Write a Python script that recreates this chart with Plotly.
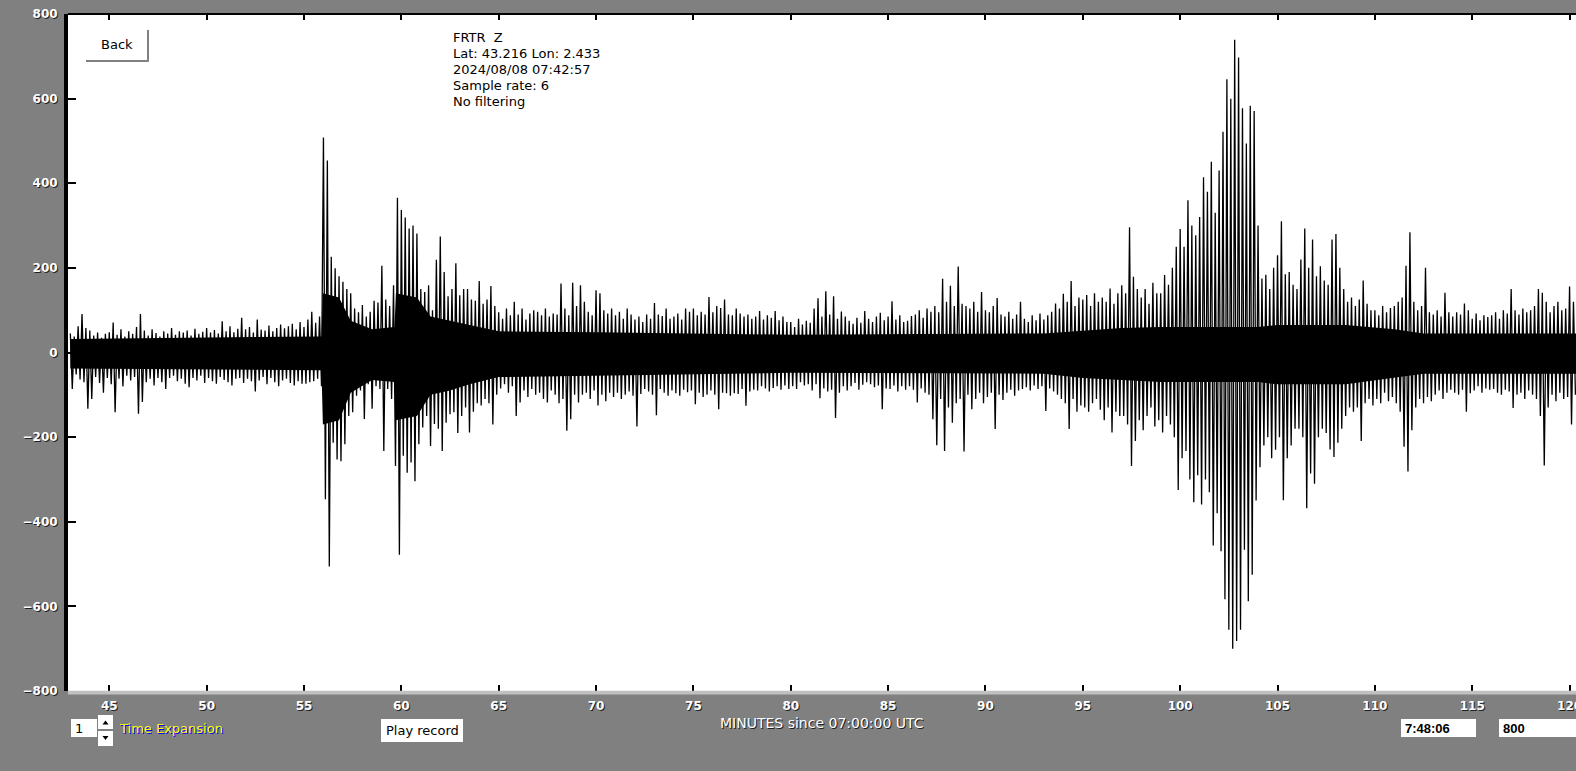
import plotly.graph_objects as go

# ---------------- data ----------------
start_minute = 43.0      # first column
column_step = 0.2        # minutes per column (one peak + one trough)

# minutes 43.0 - 55.8 (pre-event noise)
peaks_a = [45, 38, 62, 91, 58,   52, 40, 47, 35, 44,   48, 71, 42, 55, 38,
           50, 44, 60, 91, 52,   40, 55, 46, 38, 50,   45, 58, 42, 50, 47,
           52, 40, 56, 44, 49,   58, 47, 53, 45, 74,   50, 62, 48, 56, 82,
           55, 60, 47, 78, 54,   52, 64, 50, 58, 66,   57, 62, 68, 55, 72,
           60, 78, 96, 70, 85]
troughs_a = [-86, -52, -64, -70, -133,  -110, -58, -72, -95, -60,  -75, -141, -62, -80, -55,
             -66, -58, -145, -117, -70,  -62, -78, -60, -70, -86,  -60, -55, -68, -62, -74,
             -82, -60, -66, -55, -72,  -60, -68, -74, -58, -65,  -70, -78, -62, -60, -72,
             -62, -68, -92, -66, -58,  -75, -60, -70, -80, -66,  -62, -72, -78, -68, -74,
             -74, -70, -68, -62, -80]

# minutes 56.0 - 64.8 (two regional events)
peaks_b = [508, 454, 226, 199, 180,  167, 150, 140, 104, 95,  112, 85, 96, 122, 118,
           205, 125, 110, 159, 366,  337, 319, 293, 300, 281,  150, 143, 159, 100, 219,
           274, 190, 133, 150, 211,  135, 150, 150, 125, 122,  169, 115, 125, 157, 110]
troughs_b = [-347, -506, -213, -253, -257,  -217, -150, -141, -102, -90,  -157, -75, -133, -80, -86,
             -233, -86, -110, -268, -478,  -244, -284, -260, -304, -217,  -177, -150, -221, -169, -180,
             -233, -166, -146, -141, -190,  -150, -130, -189, -140, -120,  -125, -110, -120, -170, -100]

# minutes 65.0 - 79.8
peaks_c = [95, 80, 104, 88, 120,  90, 104, 78, 92, 100,  96, 88, 104, 85, 92,
           90, 163, 104, 88, 165,  110, 159, 120, 96, 88,  147, 140, 100, 92, 104,
           88, 96, 80, 104, 90,  78, 85, 72, 90, 80,  117, 90, 86, 104, 80,
           85, 92, 78, 104, 96,  104, 88, 96, 90, 131,  95, 110, 105, 125, 90,
           88, 104, 92, 85, 90,  80, 85, 98, 78, 88,  82, 98, 76, 85, 72]
troughs_c = [-85, -75, -95, -80, -150,  -118, -90, -105, -86, -100,  -95, -110, -118, -90, -100,
             -120, -110, -185, -158, -100,  -118, -100, -95, -110, -90,  -125, -100, -115, -95, -105,
             -95, -110, -100, -92, -102,  -175, -98, -86, -92, -100,  -148, -86, -95, -102, -90,
             -96, -102, -88, -94, -90,  -122, -95, -105, -100, -90,  -100, -134, -95, -96, -102,
             -96, -98, -86, -126, -92,  -88, -90, -80, -85, -92,  -84, -80, -88, -78, -86]

# minutes 80.0 - 99.8 (P and S arrivals of the main event)
peaks_d = [72, 60, 80, 66, 75,  70, 104, 128, 85, 145,  90, 133, 80, 97, 85,
           75, 68, 82, 70, 98,  80, 72, 85, 94, 76,  85, 121, 78, 88, 72,
           75, 86, 90, 100, 82,  104, 96, 110, 95, 174,  120, 158, 110, 203, 115,
           110, 104, 120, 96, 143,  100, 95, 110, 129, 90,  85, 96, 80, 90, 120,
           80, 72, 88, 76, 92,  78, 88, 96, 116, 104,  139, 120, 169, 110, 130,
           125, 136, 110, 140, 120,  130, 120, 151, 115, 140,  159, 140, 296, 179, 150,
           130, 150, 115, 165, 140,  140, 183, 160, 200, 250]
troughs_d = [-80, -86, -70, -78, -75,  -90, -75, -108, -85, -92,  -88, -155, -95, -80, -90,
             -80, -72, -88, -76, -70,  -75, -82, -78, -134, -85,  -86, -78, -92, -80, -88,
             -80, -88, -118, -85, -95,  -100, -158, -219, -110, -233,  -130, -166, -120, -110, -234,
             -100, -134, -110, -95, -120,  -105, -95, -181, -100, -112,  -95, -88, -102, -90, -86,
             -82, -90, -78, -86, -80,  -138, -85, -92, -100, -110,  -120, -181, -110, -140, -125,
             -130, -140, -120, -110, -135,  -160, -130, -189, -140, -150,  -150, -170, -268, -209, -160,
             -184, -150, -130, -175, -160,  -189, -150, -170, -200, -325]

# minutes 100.0 - 120.2 (surface waves and coda)
peaks_e = [292, 250, 360, 300, 277,  320, 414, 380, 451, 330,  430, 522, 646, 600, 739,
           697, 577, 494, 583, 571,  300, 175, 184, 150, 200,  230, 310, 185, 190, 160,
           150, 220, 293, 200, 267,  180, 204, 170, 160, 267,  280, 200, 150, 120, 130,
           110, 125, 170, 115, 100,  100, 88, 110, 95, 105,  110, 120, 130, 205, 284,
           120, 100, 110, 200, 95,  90, 100, 85, 141, 95,  85, 95, 90, 116, 100,
           80, 92, 76, 88, 84,  88, 95, 80, 100, 92,  150, 100, 90, 104, 95,
           100, 110, 150, 141, 120,  95, 110, 120, 100, 104,  156, 120]
troughs_e = [-250, -233, -300, -354, -290,  -359, -300, -330, -456, -380,  -470, -583, -655, -700, -682,
             -655, -466, -588, -525, -350,  -271, -220, -200, -250, -230,  -200, -349, -250, -220, -180,
             -180, -200, -368, -286, -310,  -200, -180, -190, -229, -247,  -213, -180, -150, -130, -140,
             -130, -209, -120, -110, -125,  -110, -120, -95, -115, -105,  -120, -140, -223, -281, -184,
             -130, -110, -120, -105, -115,  -100, -90, -110, -95, -88,  -95, -100, -88, -140, -96,
             -90, -80, -95, -85, -88,  -86, -95, -100, -88, -92,  -131, -100, -95, -110, -90,
             -100, -110, -150, -267, -130,  -100, -115, -95, -110, -105,  -170, -100]

# solid black core of the trace (time in minutes, upper and lower edge)
core_time = [43.0, 55.9, 55.97, 56.8, 57.4, 58.5, 59.65, 59.72, 60.8, 61.5, 62.5, 63.5,
             65.0, 70.0, 80.0, 93.0, 95.0, 97.0, 99.0, 104.0, 105.0, 108.5, 111.0, 112.5, 120.4]
core_top = [32, 38, 140, 130, 75, 55, 60, 140, 130, 85, 75, 65,
            50, 48, 42, 45, 52, 58, 60, 60, 65, 65, 55, 45, 45]
core_bottom = [-38, -42, -170, -160, -95, -65, -70, -160, -150, -100, -90, -75,
               -58, -55, -48, -50, -60, -65, -70, -70, -75, -75, -60, -50, -50]

y_ticks = [-800, -600, -400, -200, 0, 200, 400, 600, 800]
x_ticks = list(range(45, 121, 5))

station_lines = ["FRTR\u00a0 Z", "Lat: 43.216 Lon: 2.433", "2024/08/08 07:42:57",
                 "Sample rate: 6", "No filtering"]

# ---------------- build trace ----------------
peaks = peaks_a + peaks_b + peaks_c + peaks_d + peaks_e
troughs = troughs_a + troughs_b + troughs_c + troughs_d + troughs_e
xs, ys = [], []
for k, (hi, lo) in enumerate(zip(peaks, troughs)):
    t = start_minute + k * column_step
    xs += [t, t + column_step / 2]
    ys += [hi, lo]

W, H = 1576, 771
L, R, T, B = 68, 0, 14, 80
PW, PH = W - L - R, H - T - B


def px(x):
    return (x - L) / PW


def py(y):
    return (H - B - y) / PH


fig = go.Figure()
fig.add_trace(go.Scatter(x=core_time, y=core_bottom, mode="lines", line=dict(width=0),
                         hoverinfo="skip"))
fig.add_trace(go.Scatter(x=core_time, y=core_top, mode="lines", line=dict(width=0),
                         fill="tonexty", fillcolor="black", hoverinfo="skip"))
fig.add_trace(go.Scatter(x=xs, y=ys, mode="lines",
                         line=dict(color="black", width=1.3), hoverinfo="skip"))

tick_font = dict(family="DejaVu Sans, sans-serif", size=12, color="white",
                 weight="bold", shadow="1px 1px 0px #202020")

fig.update_layout(
    width=W, height=H, margin=dict(l=L, r=R, t=T, b=B, pad=0, autoexpand=False),
    paper_bgcolor="#808080", plot_bgcolor="white", showlegend=False,
    xaxis=dict(range=[42.88, 120.33], tickvals=x_ticks, ticks="inside", ticklen=6,
               tickwidth=1.5, tickcolor="black", mirror="ticks", showline=False,
               showgrid=False, zeroline=False, tickfont=tick_font, automargin=False,
               ticklabelstandoff=6, ticklabeloverflow="allow"),
    yaxis=dict(range=[-800, 800], tickvals=y_ticks, ticks="inside", ticklen=8,
               tickwidth=2, tickcolor="black", showline=True, linewidth=4,
               linecolor="black", showgrid=False, zeroline=False, tickfont=tick_font,
               automargin=False, ticklabelstandoff=4),
)

shapes = []
shapes.append(dict(type="line", xref="paper", yref="paper", x0=0, x1=1, y0=1, y1=1,
                   line=dict(color="black", width=2)))
shapes.append(dict(type="rect", xref="paper", yref="paper", x0=0, x1=1,
                   y0=py(694.5), y1=py(690.8), fillcolor="#c0c0c0", line=dict(width=0)))
shapes.append(dict(type="line", xref="paper", yref="paper", x0=px(86), x1=px(148.5),
                   y0=py(61), y1=py(61), line=dict(color="#808080", width=2)))
shapes.append(dict(type="line", xref="paper", yref="paper", x0=px(148), x1=px(148),
                   y0=py(30), y1=py(61.5), line=dict(color="#808080", width=2)))


def box(x0, y0, x1, y1):
    shapes.append(dict(type="rect", xref="paper", yref="paper", x0=px(x0), x1=px(x1),
                       y0=py(y1), y1=py(y0), fillcolor="white", line=dict(width=0)))


box(71, 719, 97, 737)
box(98, 715, 113, 729)
box(98, 731, 113, 746)
box(381, 719, 463, 742)
box(1401, 719, 1476, 737)
box(1499, 719, 1580, 737)

shapes.append(dict(type="path", xref="paper", yref="paper",
                   path=f"M {px(102.5)},{py(724.5)} L {px(108.5)},{py(724.5)} L {px(105.5)},{py(720.5)} Z",
                   fillcolor="black", line=dict(width=0)))
shapes.append(dict(type="path", xref="paper", yref="paper",
                   path=f"M {px(102.5)},{py(736)} L {px(108.5)},{py(736)} L {px(105.5)},{py(740)} Z",
                   fillcolor="black", line=dict(width=0)))
fig.update_layout(shapes=shapes)

ann = []
sans = "DejaVu Sans, sans-serif"
lib = "Liberation Sans, Arial, sans-serif"
for i, line in enumerate(station_lines):
    ann.append(dict(text=line, xref="paper", yref="paper", x=px(451), y=py(37 + 16.2 * i),
                    xanchor="left", yanchor="middle", showarrow=False,
                    font=dict(family=sans, size=13, color="black")))
ann.append(dict(text="Back", xref="paper", yref="paper", x=px(117), y=py(45),
                xanchor="center", yanchor="middle", showarrow=False,
                font=dict(family=sans, size=13, color="black")))
ann.append(dict(text="MINUTES since 07:00:00 UTC", xref="paper", yref="paper", x=0.5,
                y=py(723), xanchor="center", yanchor="middle", showarrow=False,
                font=dict(family=sans, size=14, color="white", shadow="1px 1px 0px #202020")))
ann.append(dict(text="1", xref="paper", yref="paper", x=px(73), y=py(728),
                xanchor="left", yanchor="middle", showarrow=False,
                font=dict(family=sans, size=13, color="black")))
ann.append(dict(text="Time Expansion", xref="paper", yref="paper", x=px(117), y=py(728),
                xanchor="left", yanchor="middle", showarrow=False,
                font=dict(family=sans, size=13, color="#ffff00",
                          shadow="1px 1px 0px #0000ff")))
ann.append(dict(text="Play record", xref="paper", yref="paper", x=px(422), y=py(730),
                xanchor="center", yanchor="middle", showarrow=False,
                font=dict(family=sans, size=13, color="black")))
ann.append(dict(text="7:48:06", xref="paper", yref="paper", x=px(1403), y=py(728),
                xanchor="left", yanchor="middle", showarrow=False,
                font=dict(family=lib, size=13, color="black", weight="bold")))
ann.append(dict(text="800", xref="paper", yref="paper", x=px(1501), y=py(728),
                xanchor="left", yanchor="middle", showarrow=False,
                font=dict(family=lib, size=13, color="black", weight="bold")))
fig.update_layout(annotations=ann)

fig.write_html("out.html", config={"displayModeBar": False},
               post_script="document.body.style.margin='0px';")
